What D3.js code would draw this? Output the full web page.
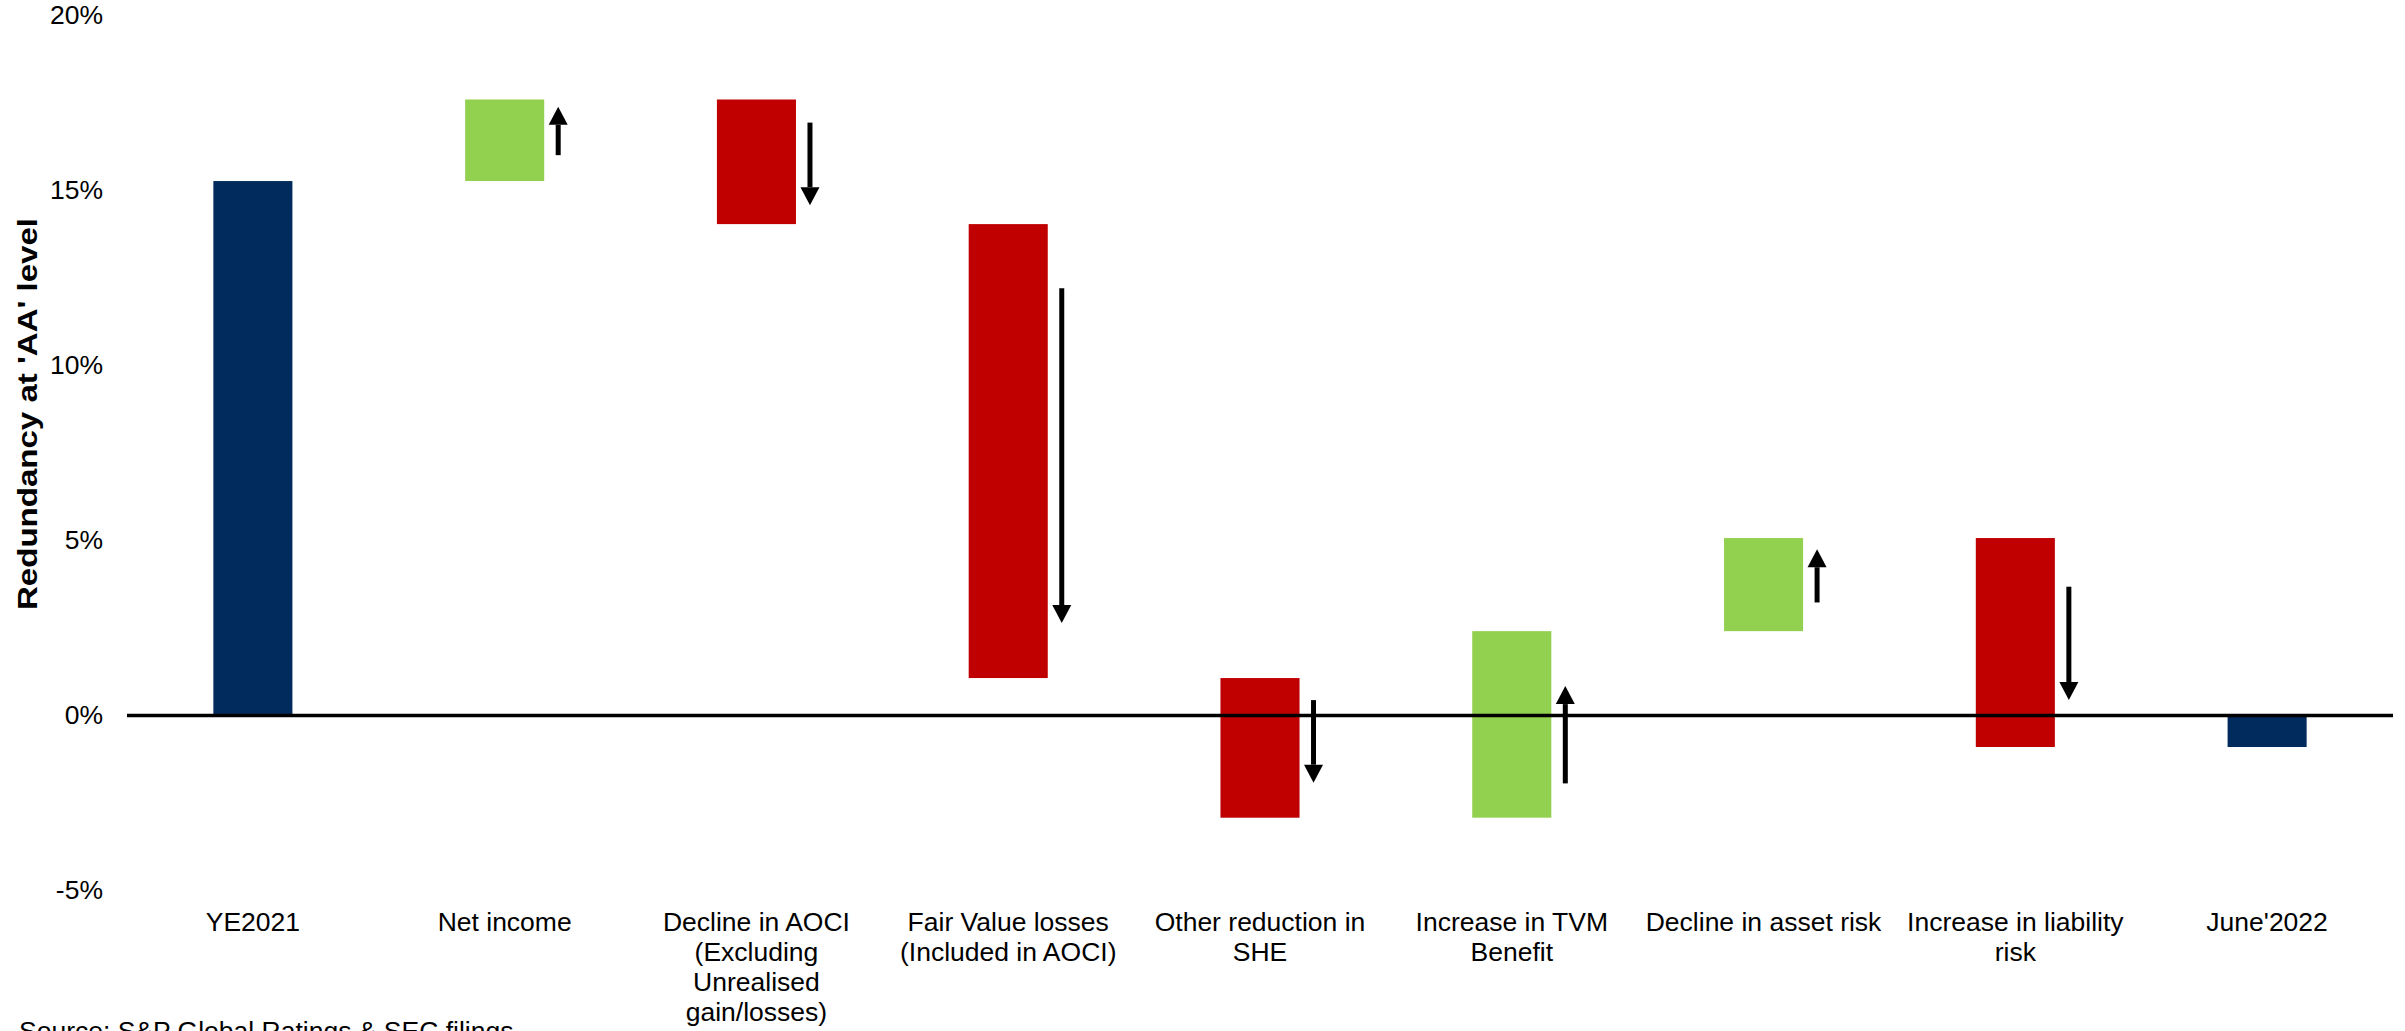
<!DOCTYPE html>
<head>
  <meta charset="utf-8">
  <script src="https://d3js.org/d3.v7.min.js"></script>
  <style>
    body { margin:0; background:#fff; }
    text { font-family: "Liberation Sans", Arial, sans-serif; fill:#000; }
  </style>
</head>
<body>
  <script>
    // categories, "|" marks a line break in the axis label
    var categories = ["YE2021", "Net income", "Decline in AOCI|(Excluding|Unrealised|gain/losses)",
      "Fair Value losses|(Included in AOCI)", "Other reduction in|SHE", "Increase in TVM|Benefit",
      "Decline in asset risk", "Increase in liability|risk", "June'2022"];
    var startValue = 15.27;
    var changes = [2.33, -3.56, -12.97, -3.99, 5.33, 2.66, -5.97];
    // arrow annotations, in % (tail -> head), one per change bar
    var arrowFrom = [16.01, 16.94, 12.21, 0.44, -1.94, 3.23, 3.68];
    var arrowTo = [17.39, 14.58, 2.64, -1.92, 0.84, 4.75, 0.44];
    var yTicks = [-5, 0, 5, 10, 15, 20];

    var width = 2405, height = 1031;
    var navy = "#002b5c", green = "#92d050", red = "#c00000";

    // build waterfall pieces
    var bars = [];
    var level = startValue;
    bars.push({cat: categories[0], lo: 0, hi: startValue, color: navy});
    changes.forEach(function(c, i) {
      var next = level + c;
      bars.push({cat: categories[i + 1], lo: Math.min(level, next), hi: Math.max(level, next),
        color: c >= 0 ? green : red, from: arrowFrom[i], to: arrowTo[i]});
      level = next;
    });
    bars.push({cat: categories[8], lo: Math.min(0, level), hi: Math.max(0, level), color: navy});

    var svg = d3.select("body").append("svg")
      .attr("width", width)
      .attr("height", height);

    var x = d3.scaleBand()
      .domain(categories)
      .range([127, 2393])
      .paddingInner(0.686)
      .paddingOuter(0.343);

    var y = d3.scaleLinear()
      .domain([-5, 20])
      .range([890.5, 15.5]);

    // y axis: labels only
    var yAxis = svg.append("g")
      .attr("transform", "translate(127,0)")
      .call(d3.axisLeft(y).tickValues(yTicks).tickSize(0).tickPadding(24)
        .tickFormat(function(d) { return d + "%"; }));
    yAxis.select(".domain").remove();
    yAxis.selectAll("text")
      .style("font-size", "26.5px")
      .style("font-family", "'Liberation Sans', Arial, sans-serif");

    svg.append("text")
      .attr("transform", "translate(37,414) rotate(-90)")
      .attr("text-anchor", "middle")
      .attr("textLength", 392)
      .attr("lengthAdjust", "spacingAndGlyphs")
      .style("font-size", "27px")
      .style("font-weight", "bold")
      .text("Redundancy at 'AA' level");

    // bars
    svg.selectAll("rect.bar")
      .data(bars)
      .enter()
      .append("rect")
      .attr("class", "bar")
      .attr("x", function(d) { return x(d.cat); })
      .attr("width", x.bandwidth())
      .attr("y", function(d) { return y(d.hi); })
      .attr("height", function(d) { return y(d.lo) - y(d.hi); })
      .attr("fill", function(d) { return d.color; });

    // zero line
    svg.append("line")
      .attr("x1", x.range()[0])
      .attr("x2", x.range()[1])
      .attr("y1", y(0))
      .attr("y2", y(0))
      .attr("stroke", "#000")
      .attr("stroke-width", 3.5);

    // arrows beside change bars
    var headH = 18, headW = 9.5;
    bars.filter(function(d) { return d.from !== undefined; }).forEach(function(d) {
      var ax = x(d.cat) + x.bandwidth() + 14;
      var y0 = y(d.from), y1 = y(d.to);
      var dir = y1 < y0 ? -1 : 1;
      svg.append("line")
        .attr("x1", ax).attr("x2", ax)
        .attr("y1", y0).attr("y2", y1 - dir * headH)
        .attr("stroke", "#000")
        .attr("stroke-width", 5);
      svg.append("path")
        .attr("d", "M" + (ax - headW) + "," + (y1 - dir * headH) +
          "L" + (ax + headW) + "," + (y1 - dir * headH) +
          "L" + ax + "," + y1 + "Z")
        .attr("fill", "#000");
    });

    // category labels
    var labels = svg.selectAll("text.cat")
      .data(categories)
      .enter()
      .append("text")
      .attr("class", "cat")
      .attr("text-anchor", "middle")
      .attr("x", function(d) { return x(d) + x.bandwidth() / 2; })
      .attr("y", 931)
      .style("font-size", "26.5px");
    labels.each(function(d) {
      var t = d3.select(this);
      d.split("|").forEach(function(line, i) {
        t.append("tspan")
          .attr("x", t.attr("x"))
          .attr("dy", i === 0 ? 0 : 30)
          .text(line);
      });
    });

    svg.append("text")
      .attr("x", 19)
      .attr("y", 1040)
      .style("font-size", "26.5px")
      .text("Source: S&P Global Ratings & SEC filings");
  </script>
</body>
